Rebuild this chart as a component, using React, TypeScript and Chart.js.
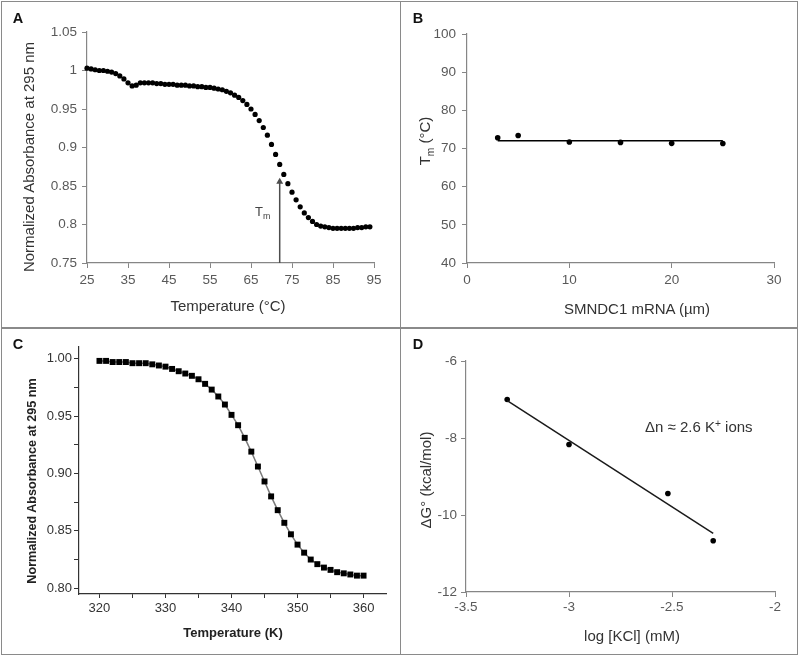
import React, { useEffect, useRef } from 'react';
import { Chart, registerables } from 'chart.js';

Chart.register(...registerables);

const FONT = '"Liberation Sans", Arial, Helvetica, sans-serif';

// ---------- Panel A : melting curve (Excel style) ----------
const tempA = [
  25, 26, 27, 28, 29, 30, 31, 32, 33, 34, 35, 36, 37, 38, 39, 40, 41, 42, 43, 44,
  45, 46, 47, 48, 49, 50, 51, 52, 53, 54, 55, 56, 57, 58, 59, 60, 61, 62, 63, 64,
  65, 66, 67, 68, 69, 70, 71, 72, 73, 74, 75, 76, 77, 78, 79, 80, 81, 82, 83, 84,
  85, 86, 87, 88, 89, 90, 91, 92, 93, 94,
];
const absA = [
  1.003, 1.002, 1.001, 1.0, 1.0, 0.999, 0.998, 0.996, 0.993, 0.989, 0.984, 0.980, 0.981, 0.984, 0.984, 0.984, 0.984, 0.983, 0.983, 0.982,
  0.982, 0.982, 0.981, 0.981, 0.981, 0.980, 0.980, 0.979, 0.979, 0.978, 0.978, 0.977, 0.976, 0.975, 0.973, 0.971, 0.968, 0.965, 0.961, 0.956,
  0.950, 0.943, 0.935, 0.926, 0.916, 0.904, 0.891, 0.878, 0.865, 0.853, 0.842, 0.832, 0.823, 0.815, 0.809, 0.804, 0.800, 0.798, 0.797, 0.796,
  0.795, 0.795, 0.795, 0.795, 0.795, 0.795, 0.796, 0.796, 0.797, 0.797,
];
const arrowTmX = [72, 72];
const arrowTmY = [0.75, 0.8555];
const ticksAX = { min: 25, max: 95, step: 10 };
const ticksAY = { min: 0.75, max: 1.05, step: 0.05 };

// ---------- Panel B : Tm vs concentration ----------
const concB = [3, 5, 10, 15, 20, 25];
const tmB = [72.8, 73.4, 71.7, 71.6, 71.35, 71.3];
const fitBX = [3, 25];
const fitBY = [72.05, 72.05];
const ticksBX = { min: 0, max: 30, step: 10 };
const ticksBY = { min: 40, max: 100, step: 10 };

// ---------- Panel C : melting curve (Origin style) ----------
const tempC = [
  320, 321, 322, 323, 324, 325, 326, 327, 328, 329, 330, 331, 332, 333, 334, 335, 336, 337, 338, 339,
  340, 341, 342, 343, 344, 345, 346, 347, 348, 349, 350, 351, 352, 353, 354, 355, 356, 357, 358, 359, 360,
];
const absC = [
  0.998, 0.998, 0.997, 0.997, 0.997, 0.996, 0.996, 0.996, 0.995, 0.994, 0.993, 0.991, 0.989, 0.987, 0.985, 0.982, 0.978, 0.973, 0.967, 0.960,
  0.951, 0.942, 0.931, 0.919, 0.906, 0.893, 0.880, 0.868, 0.857, 0.847, 0.838, 0.831, 0.825, 0.821, 0.818, 0.816, 0.814, 0.813, 0.812, 0.811, 0.811,
];
const ticksCX = { min: 316.9, max: 363.4, step: 5 };
const ticksCY = { min: 0.795, max: 1.0101, step: 0.025 };

// ---------- Panel D : ΔG vs log[KCl] ----------
const logKCl = [-3.3, -3.0, -2.52, -2.3];
const dG = [-7.0, -8.17, -9.44, -10.67];
const fitDX = [-3.3, -2.3];
const fitDY = [-7.03, -10.48];
const ticksDX = { min: -3.5, max: -2, step: 0.5 };
const ticksDY = { min: -12, max: -6, step: 2 };

// ---------- helpers ----------
function pts(xs: number[], ys: number[]) {
  return xs.map((x, i) => ({ x, y: ys[i] }));
}

type AxisSpec = {
  horiz: boolean;
  range: { min: number; max: number; step: number };
  size: number;
  pad: number;
  fit: number;
  fmt?: (v: number) => string;
  color?: string;
  line?: string;
  tickLen?: number;
  weight?: string;
};

function axis(p: AxisSpec) {
  return {
    type: 'linear',
    position: p.horiz ? 'bottom' : 'left',
    min: p.range.min,
    max: p.range.max,
    ticks: {
      stepSize: p.range.step,
      includeBounds: false,
      autoSkip: false,
      maxRotation: 0,
      color: p.color ?? '#595959',
      font: { family: FONT, size: p.size, weight: p.weight ?? 'normal' },
      padding: p.pad,
      callback: (v: number) => (p.fmt ? p.fmt(v) : String(Math.round(v * 1000) / 1000)),
    },
    grid: {
      display: true,
      drawOnChartArea: false,
      drawTicks: true,
      tickLength: p.tickLen ?? 5,
      tickColor: p.line ?? '#868686',
      tickWidth: 1,
    },
    border: { display: true, color: p.line ?? '#868686', width: 1.2 },
    title: { display: false },
    afterFit: (s: any) => {
      if (p.horiz) s.height = p.fit;
      else s.width = p.fit;
    },
  };
}

function baseOptions(padding: any, scales: any) {
  return {
    responsive: false,
    maintainAspectRatio: false,
    animation: false,
    events: [],
    layout: { padding },
    plugins: { legend: { display: false }, tooltip: { enabled: false } },
    scales,
  };
}

const configA = () => ({
  type: 'scatter',
  data: {
    datasets: [
      {
        data: pts(tempA, absA),
        showLine: false,
        pointStyle: 'circle',
        pointRadius: 2.6,
        pointBackgroundColor: '#000',
        pointBorderColor: '#000',
        pointBorderWidth: 0,
        clip: false,
      },
      {
        data: pts(arrowTmX, arrowTmY),
        showLine: true,
        borderColor: '#4d4d4d',
        borderWidth: 1.5,
        pointStyle: 'triangle',
        pointRadius: [0, 4],
        pointBackgroundColor: '#4d4d4d',
        pointBorderColor: '#4d4d4d',
        pointBorderWidth: 0,
        clip: false,
      },
    ],
  },
  options: baseOptions({ top: 32, right: 26, left: 0, bottom: 0 }, {
    x: axis({ horiz: true, range: ticksAX, size: 13.5, pad: 4, fit: 65 }),
    y: axis({ horiz: false, range: ticksAY, size: 13.5, pad: 5, fit: 87 }),
  }),
});

const configB = () => ({
  type: 'scatter',
  data: {
    datasets: [
      {
        data: pts(fitBX, fitBY),
        showLine: true,
        borderColor: '#000',
        borderWidth: 1.5,
        pointRadius: 0,
        clip: false,
      },
      {
        data: pts(concB, tmB),
        showLine: false,
        pointStyle: 'circle',
        pointRadius: 2.8,
        pointBackgroundColor: '#000',
        pointBorderColor: '#000',
        pointBorderWidth: 0,
        clip: false,
      },
    ],
  },
  options: baseOptions({ top: 34, right: 26, left: 0, bottom: 0 }, {
    x: axis({ horiz: true, range: ticksBX, size: 13.5, pad: 4, fit: 65 }),
    y: axis({ horiz: false, range: ticksBY, size: 13.5, pad: 6, fit: 67 }),
  }),
});

const isMult = (v: number, m: number) => Math.abs(v / m - Math.round(v / m)) < 1e-6;

const configC = () => ({
  type: 'scatter',
  data: {
    datasets: [
      {
        data: pts(tempC, absC),
        showLine: true,
        borderColor: '#7a7a7a',
        borderWidth: 1.5,
        pointStyle: 'rect',
        pointRadius: 4.2,
        pointBackgroundColor: '#000',
        pointBorderColor: '#000',
        pointBorderWidth: 0,
        clip: false,
      },
    ],
  },
  options: baseOptions({ top: 19, right: 14, left: 0, bottom: 0 }, {
    x: axis({
      horiz: true, range: ticksCX, size: 13, pad: 3, fit: 61, color: '#333', line: '#333', tickLen: 4,
      fmt: (v) => (isMult(v, 10) ? String(Math.round(v)) : ''),
    }),
    y: axis({
      horiz: false, range: ticksCY, size: 13, pad: 2, fit: 79, color: '#333', line: '#333', tickLen: 5,
      fmt: (v) => (isMult(v, 0.05) ? v.toFixed(2) : ''),
    }),
  }),
});

const configD = () => ({
  type: 'scatter',
  data: {
    datasets: [
      {
        data: pts(fitDX, fitDY),
        showLine: true,
        borderColor: '#1a1a1a',
        borderWidth: 1.5,
        pointRadius: 0,
        clip: false,
      },
      {
        data: pts(logKCl, dG),
        showLine: false,
        pointStyle: 'circle',
        pointRadius: 2.8,
        pointBackgroundColor: '#000',
        pointBorderColor: '#000',
        pointBorderWidth: 0,
        clip: false,
      },
    ],
  },
  options: baseOptions({ top: 33, right: 25, left: 0, bottom: 0 }, {
    x: axis({ horiz: true, range: ticksDX, size: 13.5, pad: 2, fit: 63 }),
    y: axis({ horiz: false, range: ticksDY, size: 13.5, pad: 4, fit: 66 }),
  }),
});

function ChartPanel(props: { left: number; top: number; width: number; height: number; make: () => any }) {
  const ref = useRef<HTMLCanvasElement | null>(null);
  useEffect(() => {
    if (!ref.current) return;
    const chart = new Chart(ref.current, props.make());
    return () => chart.destroy();
  }, []);
  return (
    <canvas
      ref={ref}
      width={props.width}
      height={props.height}
      style={{ position: 'absolute', left: props.left, top: props.top, width: props.width, height: props.height }}
    />
  );
}

function Label(props: {
  x: number; y: number; rot?: number; size: number; bold?: boolean; color?: string; anchor?: 'center' | 'left';
  children: React.ReactNode;
}) {
  const tx = props.anchor === 'left' ? '0' : '-50%';
  return (
    <div
      style={{
        position: 'absolute',
        left: props.x,
        top: props.y,
        transform: `translate(${tx},-50%) rotate(${props.rot ?? 0}deg)`,
        fontFamily: FONT,
        fontSize: props.size,
        fontWeight: props.bold ? 'bold' : 'normal',
        color: props.color ?? '#333',
        whiteSpace: 'nowrap',
        lineHeight: 1,
      }}
    >
      {props.children}
    </div>
  );
}

const Sub = (p: { children: React.ReactNode }) => (
  <span style={{ fontSize: '0.68em', position: 'relative', top: '0.35em' }}>{p.children}</span>
);
const Sup = (p: { children: React.ReactNode }) => (
  <span style={{ fontSize: '0.68em', position: 'relative', top: '-0.45em' }}>{p.children}</span>
);

export default function App() {
  const line = '#8a8a8a';
  return (
    <div style={{ position: 'absolute', left: 0, top: 0, width: 800, height: 656, background: '#fff', overflow: 'hidden' }}>
      <ChartPanel left={0} top={0} width={400} height={328} make={configA} />
      <ChartPanel left={400} top={0} width={400} height={328} make={configB} />
      <ChartPanel left={0} top={328} width={400} height={327} make={configC} />
      <ChartPanel left={400} top={328} width={400} height={327} make={configD} />

      {/* frame */}
      <div style={{ position: 'absolute', left: 1, top: 1, width: 797, height: 654, border: `1px solid ${line}`, boxSizing: 'border-box' }} />
      <div style={{ position: 'absolute', left: 400, top: 1, width: 1, height: 654, background: line }} />
      <div style={{ position: 'absolute', left: 1, top: 327, width: 797, height: 1.5, background: line }} />

      {/* panel letters */}
      <Label x={18} y={18} size={14.5} bold color="#111">A</Label>
      <Label x={418} y={18} size={14.5} bold color="#111">B</Label>
      <Label x={18} y={344} size={14.5} bold color="#111">C</Label>
      <Label x={418} y={344} size={14.5} bold color="#111">D</Label>

      {/* Panel A texts */}
      <Label x={28} y={157} rot={-90} size={15}>Normalized Absorbance at 295 nm</Label>
      <Label x={228} y={305} size={15}>Temperature (°C)</Label>
      <Label x={255} y={211} size={13} anchor="left" color="#444">T<Sub>m</Sub></Label>

      {/* Panel B texts */}
      <Label x={425} y={141} rot={-90} size={15}>T<Sub>m</Sub> (°C)</Label>
      <Label x={637} y={308} size={15}>SMNDC1 mRNA (µm)</Label>

      {/* Panel C texts */}
      <Label x={32} y={481} rot={-90} size={12.6} bold color="#222">Normalized Absorbance at 295 nm</Label>
      <Label x={233} y={632} size={13} bold color="#222">Temperature (K)</Label>

      {/* Panel D texts */}
      <Label x={425} y={480} rot={-90} size={15}>ΔG° (kcal/mol)</Label>
      <Label x={632} y={635} size={15}>log [KCl] (mM)</Label>
      <Label x={645} y={427} size={15} anchor="left">Δn ≈ 2.6 K<Sup>+</Sup> ions</Label>
    </div>
  );
}
